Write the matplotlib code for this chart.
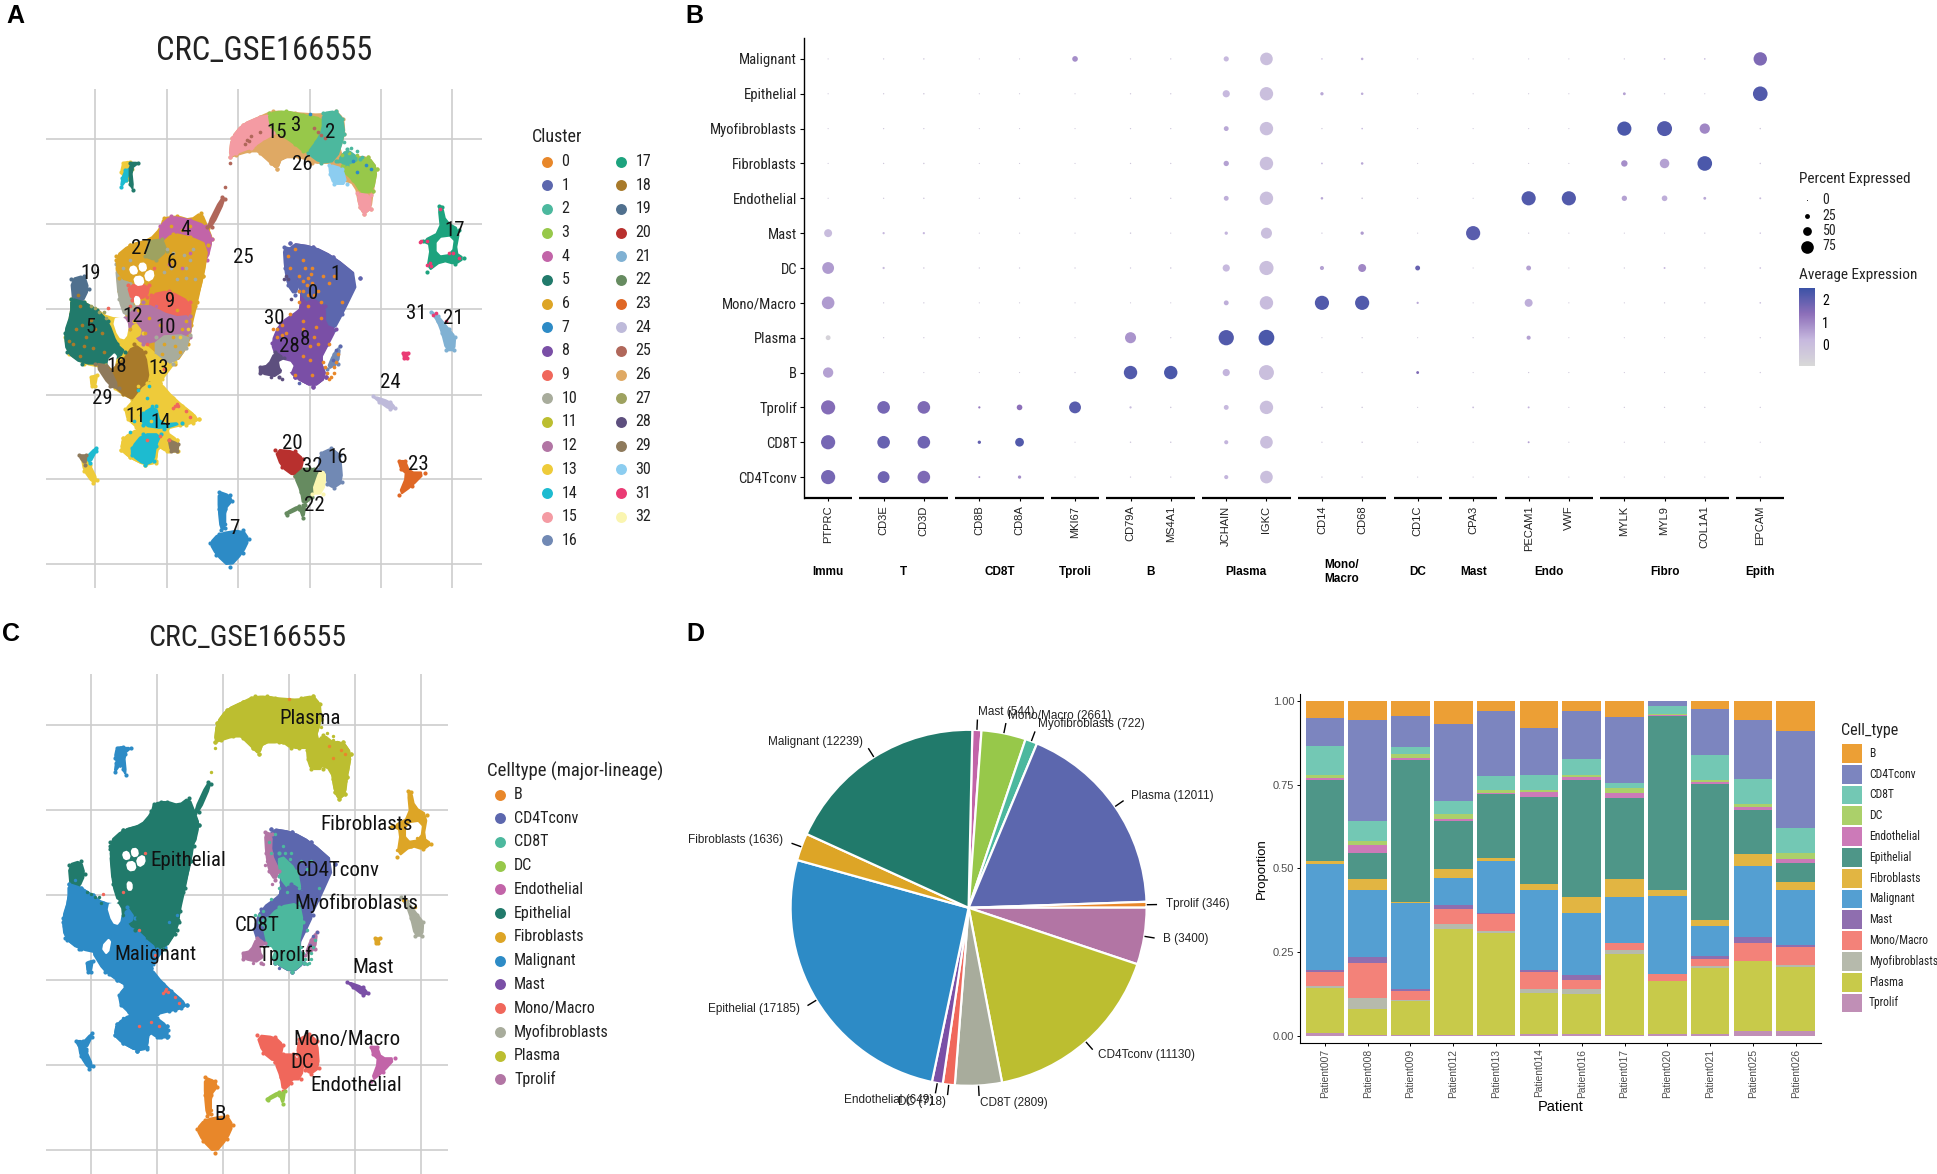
import numpy as np
import matplotlib
matplotlib.use('Agg')
import matplotlib.pyplot as plt
from matplotlib.colors import LinearSegmentedColormap
from matplotlib.cm import ScalarMappable
from matplotlib.patches import Polygon, Rectangle

W, H = 1937, 1174
plt.rcParams['font.family'] = ['Liberation Sans', 'DejaVu Sans']
NARROW = ['Roboto Condensed', 'Liberation Sans']

# palettes
cluster_colors = ['#E8872A', '#5C67AE', '#4CB89E', '#97C84A', '#C264A8', '#217A6B', '#DDA526',
                  '#2D8BC6', '#7A4FA6', '#F0675B', '#A8AC9C', '#BCBE30', '#B275A4', '#EECB3A',
                  '#1DBBD0', '#F49BA3', '#7189B4', '#1DA37E', '#A87A2A', '#50708E', '#B8302E',
                  '#80B1D3', '#668B60', '#DF6725', '#BEBADA', '#B0675A', '#DFA964', '#9EA260',
                  '#5D4F7E', '#8E7A5C', '#8CCDF0', '#EA3B74', '#FAF5B0']
cell_types = ['B', 'CD4Tconv', 'CD8T', 'DC', 'Endothelial', 'Epithelial', 'Fibroblasts',
              'Malignant', 'Mast', 'Mono/Macro', 'Myofibroblasts', 'Plasma', 'Tprolif']
type_colors = dict(zip(cell_types, cluster_colors))
bar_colors = ['#EC9F35', '#7C85BF', '#73C8B4', '#ABD06A', '#CC7AB8', '#4E9688', '#E2B542',
              '#549FD2', '#8F6EAF', '#F38279', '#B6BAAC', '#C8CA4A', '#C08FB6']

# UMAP regions, outlines (picture coordinates, same embedding in A and C)
blob_cluster = [26, 6, 13, 8,
                15, 26, 3, 2, 3, 15, 30, 2,
                10, 4, 6, 6, 27, 9, 9, 12, 10, 13, 13, 18, 19, 5, 29, 13,
                13, 14, 13, 14, 29, 13, 14, 5, 25, 13, 14, 29,
                1, 1, 8, 8, 28, 1, 16,
                17, 31, 21, 24, 20, 22, 22, 22, 32, 16, 23, 7, 7,
                'hole', 'hole', 'hole', 'hole', 'hole', 'hole', 'hole', 'hole', 'hole']
blob_type = ['Plasma', 'Epithelial', 'Malignant', 'CD4Tconv'] + ['Plasma'] * 8 + \
            ['Epithelial', 'Epithelial', 'Epithelial', 'Epithelial', 'Epithelial',
             'Epithelial', 'Epithelial', 'Epithelial', 'Epithelial', 'Malignant', 'Malignant',
             'Malignant', 'Epithelial', 'Malignant', 'Malignant', 'Malignant'] + \
            ['Malignant', 'Malignant', 'Malignant', 'Malignant', 'Malignant', 'Malignant',
             'Malignant', 'Malignant', 'Epithelial', 'Malignant', 'Malignant', 'Malignant'] + \
            ['CD4Tconv', 'CD8T', 'CD4Tconv', 'CD8T', 'Tprolif', 'Tprolif', 'Tprolif'] + \
            ['Fibroblasts', 'Fibroblasts', 'Myofibroblasts', 'Mast', 'Mono/Macro',
             'Mono/Macro', 'DC', 'DC', 'Mono/Macro', 'Mono/Macro', 'Endothelial', 'B', 'B'] + \
            ['hole'] * 9
blob_outline = [
    # whole silhouettes underneath
    [(530, 410), (535, 360), (560, 325), (600, 305), (630, 290), (680, 295), (745, 300), (775, 290), (792, 310), (795, 350), (780, 400), (810, 410), (850, 410), (870, 440), (860, 500), (855, 545), (840, 558), (830, 540), (820, 480), (790, 470), (770, 425), (720, 425), (700, 410), (650, 410), (640, 440), (625, 425), (600, 395), (575, 395), (545, 405)],
    [(378, 570), (410, 565), (440, 575), (465, 555), (480, 595), (490, 625), (478, 660), (468, 720), (455, 790), (442, 850), (435, 900), (405, 950), (345, 925), (295, 840), (290, 810), (275, 760), (268, 680), (300, 640), (345, 628), (372, 595)],
    [(345, 920), (405, 945), (375, 990), (370, 1000), (385, 1035), (420, 1060), (460, 1095), (445, 1105), (415, 1112), (385, 1120), (380, 1135), (410, 1150), (412, 1178), (390, 1180), (365, 1165), (360, 1205), (335, 1215), (300, 1195), (280, 1175), (285, 1145), (320, 1125), (315, 1115), (295, 1095), (290, 1070), (310, 1045), (285, 1030), (265, 1015), (240, 960), (195, 950), (160, 925), (150, 880), (165, 820), (165, 780), (195, 790), (225, 810), (250, 830), (295, 835)],
    [(669, 636), (723, 645), (769, 671), (830, 727), (757, 858), (738, 941), (753, 985), (723, 1011), (680, 985), (692, 810), (696, 775), (692, 732), (661, 697)],
    # plasma arc
    [(530, 410), (535, 360), (560, 325), (600, 305), (630, 300), (640, 345), (610, 385), (580, 385), (545, 400)],
    [(590, 385), (610, 370), (650, 345), (700, 370), (720, 395), (690, 410), (650, 410), (640, 440), (625, 425), (600, 400)],
    [(620, 295), (660, 290), (700, 300), (745, 310), (750, 340), (730, 400), (700, 395), (680, 375), (640, 345), (625, 330)],
    [(745, 295), (775, 290), (790, 310), (795, 350), (775, 420), (740, 425), (710, 400), (730, 370), (745, 340)],
    [(800, 415), (850, 410), (870, 440), (860, 500), (835, 505), (815, 470), (785, 440)],
    [(825, 505), (855, 510), (855, 545), (840, 558), (830, 540)],
    [(760, 430), (790, 440), (800, 480), (770, 480), (762, 455)],
    [(780, 420), (800, 390), (830, 415), (800, 430)],
    # big epithelial mass
    [(268, 690), (300, 740), (310, 800), (290, 830), (275, 780)],
    [(370, 590), (395, 565), (440, 575), (475, 590), (490, 625), (478, 680), (465, 670), (440, 625), (400, 610), (370, 640)],
    [(370, 640), (400, 610), (440, 620), (480, 640), (470, 720), (450, 800), (430, 790), (400, 760), (355, 750), (355, 700)],
    [(268, 670), (300, 640), (350, 625), (370, 650), (355, 700), (350, 745), (320, 740), (275, 725)],
    [(345, 630), (375, 625), (385, 655), (360, 680), (335, 670)],
    [(350, 770), (390, 760), (440, 790), (440, 825), (400, 830), (345, 810)],
    [(295, 745), (345, 745), (340, 775), (305, 785)],
    [(330, 790), (400, 830), (440, 825), (440, 880), (360, 890), (330, 900), (300, 860), (290, 830)],
    [(360, 880), (438, 875), (430, 910), (400, 950), (360, 945)],
    [(310, 840), (330, 870), (300, 890)],
    [(350, 920), (385, 950), (370, 990), (345, 1000), (340, 950)],
    [(280, 950), (310, 900), (335, 920), (345, 1000), (310, 1045), (285, 1030), (265, 1010), (245, 960)],
    [(165, 730), (195, 720), (205, 755), (190, 790), (170, 790)],
    [(165, 780), (195, 790), (225, 810), (250, 840), (270, 900), (290, 920), (250, 950), (190, 950), (155, 920), (150, 870), (165, 820)],
    [(220, 950), (250, 955), (275, 1015), (255, 1010)],
    [(210, 985), (225, 980), (220, 1010), (212, 1010)],
    # lower lobes
    [(300, 1060), (340, 1000), (370, 1000), (400, 1040), (460, 1095), (430, 1110), (330, 1115), (295, 1090)],
    [(330, 1080), (360, 1060), (370, 1110), (420, 1105), (380, 1120), (330, 1112)],
    [(285, 1145), (320, 1120), (385, 1130), (410, 1150), (410, 1180), (385, 1180), (365, 1165), (360, 1210), (335, 1215), (300, 1195), (280, 1175)],
    [(305, 1170), (330, 1135), (372, 1135), (360, 1165), (355, 1205), (335, 1215), (305, 1190)],
    [(390, 1150), (412, 1160), (410, 1180), (395, 1180)],
    [(285, 425), (300, 422), (305, 440), (300, 470), (292, 470), (280, 450)],
    [(290, 445), (302, 440), (292, 470), (280, 488), (283, 465)],
    [(300, 425), (320, 425), (303, 440), (308, 495), (300, 480)],
    [(512, 515), (520, 520), (490, 592), (478, 592)],
    [(190, 1200), (200, 1195), (208, 1215), (225, 1255), (215, 1262), (195, 1230)],
    [(200, 1195), (222, 1170), (222, 1180), (208, 1210)],
    [(182, 1190), (200, 1190), (198, 1215)],
    # T cell island
    [(669, 636), (723, 645), (769, 671), (830, 727), (790, 820), (770, 862), (750, 850), (735, 790), (725, 745), (692, 732), (661, 697)],
    [(690, 700), (735, 745), (745, 800), (720, 800), (690, 760)],
    [(627, 897), (646, 845), (692, 810), (720, 780), (750, 800), (750, 850), (775, 860), (757, 900), (738, 941), (753, 985), (723, 1011), (680, 985), (660, 955), (638, 932)],
    [(650, 885), (690, 840), (740, 830), (750, 880), (738, 941), (752, 985), (723, 1010), (680, 985), (665, 955)],
    [(600, 960), (620, 955), (635, 920), (655, 935), (645, 985), (600, 975)],
    [(655, 645), (672, 650), (670, 700), (690, 745), (680, 770), (665, 745), (658, 700)],
    [(770, 925), (785, 905), (780, 950), (755, 965)],
    # small islands
    [(1012, 538), (1020, 540), (1028, 580), (1060, 600), (1050, 660), (1070, 675), (1050, 690), (1020, 680), (985, 710), (995, 640), (975, 630), (1018, 605)],
    [(930, 922), (942, 922), (938, 935), (932, 935)],
    [(995, 815), (1010, 825), (1035, 860), (1050, 880), (1048, 915), (1030, 915), (1020, 870), (1010, 840)],
    [(860, 1035), (900, 1050), (912, 1065), (900, 1070), (875, 1050)],
    [(635, 1175), (680, 1180), (700, 1200), (695, 1225), (680, 1245), (650, 1220)],
    [(680, 1245), (700, 1225), (725, 1225), (735, 1240), (720, 1300), (700, 1320), (695, 1285)],
    [(660, 1340), (690, 1322), (690, 1330), (662, 1345)],
    [(692, 1330), (705, 1320), (700, 1355)],
    [(740, 1225), (755, 1225), (745, 1290), (720, 1290)],
    [(740, 1185), (765, 1172), (785, 1190), (790, 1260), (770, 1275), (755, 1265), (755, 1230), (735, 1225)],
    [(920, 1205), (935, 1205), (945, 1235), (980, 1235), (950, 1270), (920, 1295), (940, 1240), (925, 1225)],
    [(485, 1420), (505, 1395), (560, 1385), (575, 1410), (560, 1445), (530, 1482), (500, 1450)],
    [(505, 1285), (530, 1295), (535, 1310), (520, 1330), (520, 1380), (510, 1385), (505, 1330)],
    # white gaps
    [(300, 700), (312, 695), (318, 712), (305, 716)],
    [(322, 690), (335, 688), (338, 705), (325, 708)],
    [(335, 715), (352, 705), (355, 725), (340, 735)],
    [(310, 725), (328, 722), (332, 742), (315, 745)],
    [(312, 775), (322, 778), (322, 795), (313, 795)],
    [(262, 835), (285, 830), (296, 850), (290, 885), (275, 880)],
    [(248, 945), (270, 920), (262, 965)],
    [(646, 941), (677, 950), (668, 976), (650, 965)],
    [(1010, 625), (1045, 620), (1040, 660), (1010, 665)],
]

# stray cells seen on top of the regions
speck_points = {
    0: [(680, 650), (665, 670), (700, 680), (720, 700), (690, 720), (700, 760), (720, 740), (740, 790),
        (690, 790), (670, 820), (700, 840), (650, 850), (640, 880), (660, 870), (740, 830), (725, 880),
        (700, 930), (735, 900), (750, 960), (770, 960), (760, 990), (720, 980), (680, 980), (630, 860),
        (670, 700), (745, 720), (770, 720), (790, 790), (760, 740), (710, 800), (705, 700), (712, 725),
        (725, 770), (712, 770), (735, 760), (718, 715), (700, 735), (690, 760), (708, 745), (640, 860),
        (650, 875), (730, 855), (700, 860), (715, 905), (715, 940), (760, 900), (775, 945), (770, 975),
        (780, 925), (745, 945), (755, 975), (765, 985)],
    18: [(180, 770), (185, 800), (200, 880), (215, 910), (170, 900), (235, 870), (190, 850), (240, 920),
         (175, 860), (220, 860), (195, 905), (160, 890), (185, 930), (210, 835)],
    6: [(410, 640), (450, 640), (420, 600), (395, 590), (440, 590), (330, 660), (290, 690), (345, 830),
        (400, 880), (420, 860), (380, 900), (300, 860), (320, 810), (430, 840), (370, 850), (335, 870),
        (405, 905), (375, 925), (415, 920), (360, 800), (410, 810)],
    10: [(400, 660), (430, 700), (385, 650), (410, 730), (440, 680), (450, 730), (380, 710), (395, 700),
         (425, 665), (445, 650), (430, 725), (300, 680), (285, 700)],
    4: [(440, 660), (420, 700), (390, 690), (360, 800), (455, 615)],
    13: [(330, 1030), (350, 1030), (370, 1060), (330, 1070), (350, 1100), (320, 1010), (300, 885),
         (355, 985), (415, 880), (435, 860)],
    14: [(320, 1020), (340, 1040), (310, 1100), (300, 1130), (345, 1010), (352, 1060), (325, 1085)],
    9: [(405, 1060), (430, 1075), (390, 1150), (370, 1140), (340, 1150), (440, 1090), (300, 800), (340, 900),
        (380, 965), (355, 700), (250, 805), (408, 1055), (412, 1062), (400, 1065)],
    27: [(230, 815), (245, 830), (210, 800), (220, 805), (240, 815)],
    3: [(830, 430), (810, 440), (805, 400), (825, 405), (790, 405), (800, 435)],
    7: [(825, 450), (855, 440), (520, 1370), (560, 1395), (845, 430), (815, 420), (715, 298)],
    31: [(972, 630), (985, 630), (1015, 545), (1035, 660), (1060, 675), (985, 692), (995, 695),
         (1045, 660), (1005, 818), (1030, 840), (968, 632), (992, 688), (1000, 822)],
    25: [(570, 365), (580, 355), (600, 345), (565, 375), (735, 345), (750, 360), (725, 335), (520, 488),
         (530, 425), (742, 352), (575, 368)],
    2: [(810, 385), (825, 395), (795, 370), (800, 395), (835, 410)],
    28: [(660, 720), (665, 730), (672, 780), (655, 730), (625, 985), (650, 990)],
    1: [(690, 1000), (775, 915), (785, 905), (768, 940)],
}
speck_type = {0: 'CD8T', 18: 'Malignant', 6: 'Epithelial', 10: 'Epithelial', 4: 'Epithelial',
              13: 'Malignant', 14: 'Malignant', 9: 'Mono/Macro', 27: 'Epithelial', 3: 'Plasma',
              7: 'B', 31: 'Fibroblasts', 25: 'Plasma', 2: 'Plasma', 28: 'Tprolif', 1: 'CD4Tconv'}

cluster_label_pos = [(723, 768), (775, 718), (763, 345), (684, 327), (429, 600), (210, 855), (396, 687),
                     (540, 1382), (705, 888), (392, 787), (382, 856), (313, 1088), (307, 828), (366, 962),
                     (371, 1105), (638, 345), (780, 1195), (1050, 603), (270, 958), (211, 715), (675, 1160),
                     (1047, 832), (726, 1320), (966, 1213), (900, 1000), (562, 673), (697, 430), (327, 648),
                     (667, 906), (237, 1042), (633, 832), (960, 820), (720, 1218)]
type_label_pos = {'Plasma': (768, 349), 'Fibroblasts': (909, 624), 'Epithelial': (464, 720),
                  'CD4Tconv': (837, 744), 'Myofibroblasts': (884, 831), 'CD8T': (635, 888),
                  'Malignant': (381, 965), 'Tprolif': (706, 965), 'Mast': (926, 999),
                  'Mono/Macro': (860, 1185), 'DC': (749, 1247), 'Endothelial': (882, 1307), 'B': (543, 1382)}
umap_xticks = [220, 385, 549, 715, 880, 1044]
umap_yticks = [364, 586, 808, 1031, 1253, 1475]

# dot plot
row_names = ['CD4Tconv', 'CD8T', 'Tprolif', 'B', 'Plasma', 'Mono/Macro', 'DC', 'Mast', 'Endothelial',
             'Fibroblasts', 'Myofibroblasts', 'Epithelial', 'Malignant']
genes = ['PTPRC', 'CD3E', 'CD3D', 'CD8B', 'CD8A', 'MKI67', 'CD79A', 'MS4A1', 'JCHAIN', 'IGKC', 'CD14',
         'CD68', 'CD1C', 'CPA3', 'PECAM1', 'VWF', 'MYLK', 'MYL9', 'COL1A1', 'EPCAM']
group_names = ['Immu', 'T', 'CD8T', 'Tproli', 'B', 'Plasma', 'Mono/\nMacro', 'DC', 'Mast', 'Endo', 'Fibro', 'Epith']
group_sizes = [1, 2, 2, 1, 2, 2, 2, 1, 1, 2, 3, 1]
pct_expressed = [
    [85, 70, 75, 6, 15, 1, 2, 2, 20, 75, 2, 2, 1, 1, 2, 1, 1, 1, 1, 2],
    [85, 75, 75, 15, 50, 1, 3, 3, 20, 75, 2, 3, 1, 1, 6, 1, 1, 1, 1, 1],
    [85, 75, 75, 8, 30, 70, 8, 3, 25, 80, 3, 3, 1, 5, 6, 1, 2, 2, 2, 2],
    [60, 1, 1, 1, 1, 2, 80, 80, 40, 90, 1, 2, 12, 1, 2, 1, 1, 1, 1, 2],
    [25, 2, 2, 1, 1, 1, 65, 2, 92, 95, 1, 2, 1, 2, 20, 1, 1, 1, 1, 2],
    [75, 2, 2, 1, 1, 1, 1, 1, 25, 80, 85, 85, 8, 1, 45, 1, 1, 2, 2, 4],
    [70, 8, 3, 2, 2, 2, 2, 3, 40, 85, 20, 45, 25, 1, 25, 1, 2, 6, 2, 4],
    [45, 8, 8, 1, 1, 1, 3, 1, 15, 65, 2, 15, 1, 85, 2, 1, 1, 1, 2, 3],
    [1, 2, 3, 1, 2, 1, 2, 2, 25, 80, 10, 4, 1, 1, 85, 85, 28, 30, 12, 6],
    [1, 2, 3, 1, 1, 1, 2, 2, 28, 80, 5, 10, 1, 1, 1, 1, 35, 55, 88, 3],
    [1, 2, 2, 1, 1, 1, 2, 2, 25, 80, 2, 4, 1, 1, 1, 1, 85, 90, 60, 3],
    [1, 2, 3, 1, 1, 1, 2, 2, 40, 80, 15, 10, 1, 1, 1, 1, 12, 2, 1, 88],
    [1, 2, 3, 1, 1, 30, 2, 2, 27, 75, 3, 10, 1, 1, 1, 1, 2, 4, 4, 80],
]
avg_expression = [
    [1.7, 1.8, 1.6, 0.8, 0.9, -.3, -.3, -.3, 0.3, 0.0, -.3, -.3, -.3, -.3, -.3, -.3, -.3, -.3, -.3, -.3],
    [1.7, 1.9, 1.8, 2.0, 2.2, -.3, -.3, -.3, 0.3, 0.0, -.3, -.3, -.3, -.3, 0.6, -.3, -.3, -.3, -.3, -.3],
    [1.5, 1.7, 1.6, 1.2, 1.4, 2.1, 0.1, -.3, 0.2, 0.0, -.3, -.3, -.3, 0.0, 0.3, -.3, -.3, -.3, -.3, -.3],
    [0.6, -.3, -.3, -.3, -.3, -.3, 2.2, 2.3, 0.3, 0.0, -.3, -.3, 1.6, -.3, -.3, -.3, -.3, -.3, -.3, -.3],
    [-.7, -.3, -.3, -.3, -.3, -.3, 0.8, -.3, 2.2, 2.3, -.3, -.3, -.3, -.3, 0.6, -.3, -.3, -.3, -.3, -.3],
    [0.7, -.3, -.3, -.3, -.3, -.3, -.3, -.3, 0.4, 0.1, 2.2, 2.2, 0.5, -.3, 0.4, -.3, -.3, -.3, -.3, 0.0],
    [0.7, 0.1, -.3, -.3, -.3, -.3, -.3, -.3, 0.2, 0.0, 0.6, 1.0, 1.9, -.3, 0.6, -.3, -.3, 0.2, -.3, 0.0],
    [0.1, 0.2, 0.2, -.3, -.3, -.3, -.3, -.3, 0.3, 0.0, -.3, 0.7, -.3, 2.1, -.3, -.3, -.3, -.3, -.3, 0.0],
    [-.3, -.3, -.3, -.3, -.3, -.3, -.3, -.3, 0.4, 0.0, 0.5, -.3, -.3, -.3, 2.2, 2.2, 0.6, 0.4, 0.5, 0.1],
    [-.3, -.3, -.3, -.3, -.3, -.3, -.3, -.3, 0.6, 0.0, 0.2, 0.5, -.3, -.3, -.3, -.3, 0.9, 0.6, 2.3, -.3],
    [-.3, -.3, -.3, -.3, -.3, -.3, -.3, -.3, 0.5, 0.0, -.3, 0.2, -.3, -.3, -.3, -.3, 2.3, 2.2, 1.0, -.3],
    [-.3, -.3, -.3, -.3, -.3, -.3, -.3, -.3, 0.2, 0.0, 0.5, 0.4, -.3, -.3, -.3, -.3, 0.6, -.3, -.3, 2.2],
    [-.3, -.3, -.3, -.3, -.3, 0.9, -.3, -.3, 0.2, 0.0, 0.2, 0.4, -.3, -.3, -.3, -.3, -.3, 0.1, 0.1, 1.6],
]
legend_pct = [0, 25, 50, 75]
expr_ticks = [0, 1, 2]

# pie
pie_names = ['Mast', 'Mono/Macro', 'Myofibroblasts', 'Plasma', 'Tprolif', 'B', 'CD4Tconv', 'CD8T', 'DC',
             'Endothelial', 'Epithelial', 'Fibroblasts', 'Malignant']
pie_counts = [544, 2661, 722, 12011, 346, 3400, 11130, 2809, 718, 649, 17185, 1636, 12239]
pie_colors = ['#C264A8', '#97C84A', '#4CB89E', '#5C67AE', '#E8872A', '#B275A4', '#BCBE30', '#A8AC9C',
              '#F0675B', '#7A4FA6', '#2D8BC6', '#DDA526', '#217A6B']

# stacked bars: lower edge of each cell type in each patient, top of the stack first
patients = ['Patient007', 'Patient008', 'Patient009', 'Patient012', 'Patient013', 'Patient014',
            'Patient016', 'Patient017', 'Patient020', 'Patient021', 'Patient025', 'Patient026']
lower_edges = [
    [.948, .866, .778, .770, .762, .522, .512, .198, .192, .150, .142, .009, 0],
    [.941, .640, .581, .569, .546, .468, .436, .236, .217, .112, .080, .004, 0],
    [.953, .861, .842, .829, .822, .400, .396, .139, .135, .107, .103, .004, 0],
    [.932, .700, .661, .648, .641, .499, .470, .392, .380, .334, .319, .004, 0],
    [.968, .775, .733, .726, .721, .532, .522, .366, .363, .314, .308, .004, 0],
    [.918, .779, .733, .727, .714, .453, .436, .197, .190, .141, .128, .005, 0],
    [.968, .825, .778, .771, .762, .413, .367, .181, .167, .141, .126, .006, 0],
    [.950, .755, .740, .724, .711, .468, .413, .276, .276, .256, .243, .003, 0],
    [1.00, .985, .960, .956, .953, .435, .417, .185, .184, .165, .164, .007, 0],
    [.974, .837, .763, .757, .752, .346, .329, .238, .231, .210, .204, .006, 0],
    [.941, .765, .692, .682, .673, .544, .506, .296, .278, .225, .224, .015, 0],
    [.909, .621, .546, .529, .517, .459, .436, .271, .264, .212, .206, .014, 0],
]
prop_ticks = [0, .25, .5, .75, 1]


def axes_px(x0, y0, x1, y1, **kw):
    return fig.add_axes([x0 / W, 1 - y1 / H, (x1 - x0) / W, (y1 - y0) / H], **kw)


def rounded(xy, passes=1):
    # corner cutting, only rounds the hand-read outline
    pts = np.array(xy, dtype=float)
    for _ in range(passes):
        nxt = np.roll(pts, -1, axis=0)
        pts = np.column_stack([0.75 * pts + 0.25 * nxt, 0.25 * pts + 0.75 * nxt]).reshape(-1, 2)
    return pts


def setup_umap(ax):
    ax.set_xlim(107, 1112)
    ax.set_ylim(1537, 232)
    ax.set_xticks(umap_xticks)
    ax.set_yticks(umap_yticks)
    ax.tick_params(length=0, labelbottom=False, labelleft=False)
    ax.grid(color='#CDCDCD', lw=1.2)
    ax.set_axisbelow(True)
    for s in ax.spines.values():
        s.set_visible(False)


def draw_region(ax, col, xy):
    ax.add_patch(Polygon(rounded(xy), closed=True, fc=col, ec=col, lw=1.6, joinstyle='round'))
    if col != 'white':
        ax.scatter(*zip(*xy), s=9, color=col, lw=0)


fig = plt.figure(figsize=(W / 100, H / 100), dpi=100)

# panel A
ax_a = axes_px(46, 89, 482, 588)
setup_umap(ax_a)
for cl, xy in zip(blob_cluster, blob_outline):
    draw_region(ax_a, 'white' if cl == 'hole' else cluster_colors[cl], xy)
for cl, pts in speck_points.items():
    ax_a.scatter(*zip(*pts), s=7, color=cluster_colors[cl], lw=0)
for i, (x, y) in enumerate(cluster_label_pos):
    ax_a.text(x, y, str(i), fontsize=15, family=NARROW, ha='center', va='center', color='#111111')

# panel C
ax_c = axes_px(45.5, 674, 448, 1174)
setup_umap(ax_c)
for tp, xy in zip(blob_type, blob_outline):
    draw_region(ax_c, 'white' if tp == 'hole' else type_colors[tp], xy)
for cl, pts in speck_points.items():
    ax_c.scatter(*zip(*pts), s=6, color=type_colors[speck_type[cl]], lw=0)
for name, (x, y) in type_label_pos.items():
    ax_c.text(x, y, name, fontsize=15, family=NARROW, ha='center', va='center', color='#111111')

# panel B
positions = []
group_spans = []
cur = 0.0
for n in group_sizes:
    group_spans.append((cur, cur + n - 1))
    positions.extend(cur + i for i in range(n))
    cur += n - 1 + 1.38
ax_b = axes_px(804, 38, 1786, 498)
expr_cmap = LinearSegmentedColormap.from_list('expr', ['#D8D8D8', '#C6B8DE', '#8D6FB9', '#3B52A6'])
expr_min, expr_max = -0.91, 2.53
dot_x, dot_y, dot_s, dot_c = [], [], [], []
for r, (pcts, vals) in enumerate(zip(pct_expressed, avg_expression)):
    for g, (p, v) in enumerate(zip(pcts, vals)):
        dot_x.append(positions[g])
        dot_y.append(r)
        dot_s.append(((1 + p * 0.155) * 0.72) ** 2)
        dot_c.append(v)
ax_b.scatter(dot_x, dot_y, s=dot_s, c=dot_c, cmap=expr_cmap, vmin=expr_min, vmax=expr_max, lw=0)
ax_b.set_xlim(-0.6, positions[-1] + 0.64)
ax_b.set_ylim(-0.6, 12.6)
ax_b.set_yticks(range(len(row_names)), row_names, fontsize=10.5, family=NARROW, color='#222222')
ax_b.set_xticks(positions, genes, rotation=90, fontsize=8, color='#222222')
ax_b.tick_params(axis='y', length=3, width=0.8, pad=2)
ax_b.tick_params(axis='x', length=2.5, width=0.8, pad=3)
for s in ['top', 'right', 'bottom']:
    ax_b.spines[s].set_visible(False)
ax_b.spines['left'].set_linewidth(1)
for (a, b), name in zip(group_spans, group_names):
    ax_b.plot([a - 0.6, b + 0.6], [-0.6, -0.6], color='black', lw=1.6, clip_on=False, solid_capstyle='butt')
    ax_b.text((a + b) / 2, -0.161, name, transform=ax_b.get_xaxis_transform(), ha='center', va='center',
              fontsize=8.5, fontweight='bold', linespacing=1.2)

cax = axes_px(1799, 288, 1815, 365.5)
cb = fig.colorbar(ScalarMappable(plt.Normalize(expr_min, expr_max), expr_cmap), cax=cax, ticks=expr_ticks)
cb.outline.set_visible(False)
cb.ax.tick_params(length=0, labelsize=10, pad=5)
for t in cb.ax.get_yticklabels():
    t.set_family(NARROW)

# panel D pie
R = 178
cx, cy = 968.6, 907.8
ax_d = axes_px(cx - R * 1.25, cy - R * 1.25, cx + R * 1.25, cy + R * 1.25)
wedges, _ = ax_d.pie(pie_counts, colors=pie_colors, startangle=88.8, counterclock=False, radius=1,
                     wedgeprops=dict(edgecolor='white', linewidth=1.6))
ax_d.set_xlim(-1.25, 1.25)
ax_d.set_ylim(-1.25, 1.25)
for w in wedges:
    a = np.deg2rad((w.theta1 + w.theta2) / 2)
    ax_d.plot([1.005 * np.cos(a), 1.055 * np.cos(a)], [1.005 * np.sin(a), 1.055 * np.sin(a)], color='black', lw=1)

# panel E bars
ax_e = axes_px(1300, 694, 1821, 1043)
edges = np.array(lower_edges)
tops = np.hstack([np.ones((len(patients), 1)), edges[:, :-1]])
x = np.arange(len(patients))
for j, col in enumerate(bar_colors):
    ax_e.bar(x, tops[:, j] - edges[:, j], bottom=edges[:, j], width=0.9, color=col, lw=0)
ax_e.set_xlim(-0.58, 11.59)
ax_e.set_ylim(-0.021, 1.02)
ax_e.set_xticks(x, patients, rotation=90, fontsize=7.4, color='#4D4D4D')
ax_e.set_yticks(prop_ticks, ['0.00', '0.25', '0.50', '0.75', '1.00'], fontsize=8, color='#4D4D4D')
ax_e.tick_params(length=2, width=0.7, pad=2)
ax_e.spines[['top', 'right']].set_visible(False)
ax_e.set_xlabel('Patient', fontsize=10.5, labelpad=2)
ax_e.set_ylabel('Proportion', fontsize=9.5, labelpad=4)

# overlay: panel letters, titles, legends, pie labels
ov = fig.add_axes([0, 0, 1, 1], zorder=10)
ov.set_xlim(0, W)
ov.set_ylim(H, 0)
ov.axis('off')
for letter, lx, ly in [('A', 15, 16), ('B', 694, 16), ('C', 11, 634), ('D', 695, 634)]:
    ov.text(lx, ly, letter, fontsize=18, fontweight='bold', ha='center', va='center')
ov.text(264, 51, 'CRC_GSE166555', fontsize=23.5, family=NARROW, ha='center', va='center', color='#222222')
ov.text(247, 638, 'CRC_GSE166555', fontsize=21.5, family=NARROW, ha='center', va='center', color='#222222')

ov.text(532, 137, 'Cluster', fontsize=13, family=NARROW, va='center', color='#222222')
for i, col in enumerate(cluster_colors):
    c = 0 if i < 17 else 1
    row = i if i < 17 else i - 17
    yy = 161.5 + row * 23.68
    ov.scatter(547 + c * 73.5, yy, s=62, color=col, lw=0)
    ov.text(561.6 + c * 74, yy, str(i), fontsize=11.5, family=NARROW, va='center', color='#222222')

ov.text(486.6, 771, 'Celltype (major-lineage)', fontsize=13.5, family=NARROW, va='center', color='#222222')
for i, name in enumerate(cell_types):
    yy = 794.5 + i * 23.74
    ov.scatter(500, yy, s=62, color=type_colors[name], lw=0)
    ov.text(514, yy, name, fontsize=11.5, family=NARROW, va='center', color='#222222')

ov.text(1799, 179, 'Percent Expressed', fontsize=11, family=NARROW, va='center', color='#222222')
for p, yy in zip(legend_pct, [200, 216, 231, 246.5]):
    ov.scatter(1807, yy, s=((1 + p * 0.155) * 0.72) ** 2, color='black', lw=0)
    ov.text(1822.6, yy, str(p), fontsize=10, family=NARROW, va='center', color='#222222')
ov.text(1799, 275, 'Average Expression', fontsize=11, family=NARROW, va='center', color='#222222')

pie_label_pos = [(978, 712, 'left'), (1008, 716, 'left'), (1038, 724, 'left'), (1131, 796, 'left'),
                 (1166, 904, 'left'), (1163, 939, 'left'), (1098, 1055, 'left'), (980, 1103, 'left'),
                 (946, 1102, 'right'), (844, 1100, 'left'), (800, 1008.6, 'right'), (783, 840, 'right'),
                 (863, 742, 'right')]
for name, n, (lx, ly, ha) in zip(pie_names, pie_counts, pie_label_pos):
    ov.text(lx, ly, f'{name} ({n})', fontsize=8.5, ha=ha, va='center', color='#222222')

ov.text(1841, 730, 'Cell_type', fontsize=11.5, family=NARROW, va='center', color='#222222')
for i, (name, col) in enumerate(zip(cell_types, bar_colors)):
    top = 744 + i * 20.8
    ov.add_patch(Rectangle((1842, top), 19.5, 18.7, fc=col, lw=0))
    ov.text(1869, top + 9.3, name, fontsize=8.4, family=NARROW, va='center', color='#222222')

fig.savefig('out.png', dpi=100)
